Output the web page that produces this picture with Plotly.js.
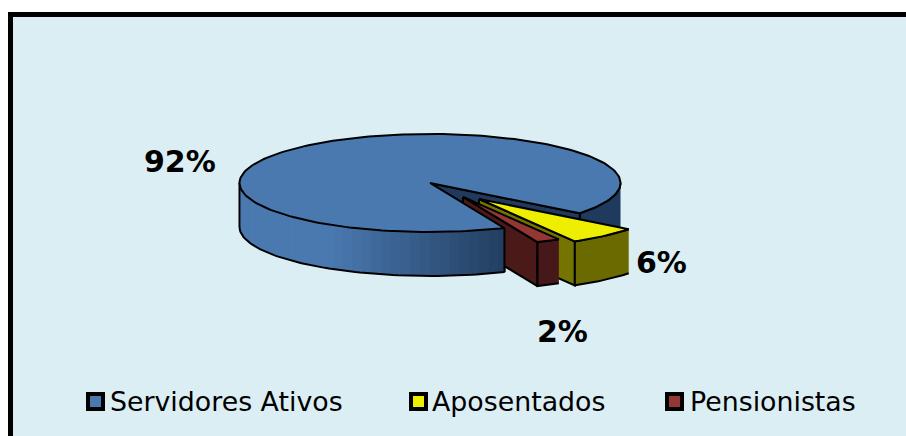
<!DOCTYPE html>
<html><head><meta charset="utf-8">
<script src="https://cdn.plot.ly/plotly-3.0.1.min.js"></script>
<style>html,body{margin:0;padding:0;background:#fff}#c{width:906px;height:436px}</style>
</head><body><div id="c"></div>
<script>
// Data
const categories = ["Servidores Ativos", "Aposentados", "Pensionistas"];
const shares = [92, 6, 2];
const labels = ["92%", "6%", "2%"];

// Style
const topColors = ["#4a79b0", "#eeee00", "#933634"];
const sideColors = ["#1f3a5c", "#6a6a00", "#47181a"];
const cutColors = ["#1f3a5c", "#747400", "#4b1a18"];
const burst = [[0, 0], [49, 16], [33, 14]];
const labelAt = [[180, 161], [661, 262], [562, 331]];
const legendMark = [95.5, 418.5, 674.5];
const legendText = [107.5, 429.5, 687.5];

const cx = 430, cy = 183, rx = 190.5, ry = 49, depth = 44, startAngle = 67;
const rad = d => d * Math.PI / 180;
const traces = [];
function poly(pts, fill, line) {
  traces.push({type: "scatter", mode: line ? "lines" : "none", fill: "toself", fillcolor: fill,
    x: pts.map(p => p[0]), y: pts.map(p => p[1]),
    line: {color: "#000", width: line ? 2 : 0}, showlegend: false, hoverinfo: "skip"});
}
function outline(pts) {
  traces.push({type: "scatter", mode: "lines", x: pts.map(p => p[0]), y: pts.map(p => p[1]),
    line: {color: "#000", width: 2}, showlegend: false, hoverinfo: "skip"});
}
function arc(a0, a1, dx, dy, dz) {
  const out = [], n = Math.max(2, Math.ceil(Math.abs(a1 - a0) / 1.5));
  for (let i = 0; i <= n; i++) {
    const a = rad(a0 + (a1 - a0) * i / n);
    out.push([cx + dx + rx * Math.cos(a), cy + dy + dz + ry * Math.sin(a)]);
  }
  return out;
}
// slice angles, clockwise on screen
const total = shares.reduce((a, b) => a + b, 0);
const spans = [];
let run = startAngle;
shares.forEach(v => { const s = v / total * 360; spans.push([run, run + s]); run += s; });
const blueEnd = spans[0][1] - 360;

// blue: far wall and the cut faces
const wallR = arc(0, blueEnd, 0, 0, 0).concat(arc(blueEnd, 0, 0, 0, depth));
poly(wallR, sideColors[0], true);
const pEnd = arc(blueEnd, blueEnd, 0, 0, 0)[0], pStart = arc(startAngle, startAngle, 0, 0, 0)[0];
poly([[cx, cy], pEnd, [pEnd[0], pEnd[1] + depth], [cx, cy + depth], [cx, cy]], cutColors[0], true);
poly([[cx, cy], pStart, [pStart[0], pStart[1] + depth], [cx, cy + depth], [cx, cy]], cutColors[0], true);

// exploded slices
[1, 2].forEach(i => {
  const [a0, a1] = [spans[i][0] - 360, spans[i][1] - 360];
  const [dx, dy] = burst[i];
  const ap = [cx + dx, cy + dy];
  const p1 = arc(a1, a1, dx, dy, 0)[0];
  poly([ap, p1, [p1[0], p1[1] + depth], [ap[0], ap[1] + depth], ap], cutColors[i], true);
  poly(arc(a0, a1, dx, dy, 0).concat(arc(a1, a0, dx, dy, depth)), sideColors[i], true);
  poly([ap].concat(arc(a0, a1, dx, dy, 0), [ap]), topColors[i], true);
});

// blue: front wall with shading that darkens towards the cut
const wallLeft = [74, 121, 176], wallRight = [34, 62, 96];
for (let a = 180; a > startAngle; a -= 3) {
  const b = Math.max(startAngle, a - 3.6);
  const xm = cx + rx * Math.cos(rad(a - 1.5));
  const t = Math.min(1, Math.max(0, (xm - 330) / (pStart[0] - 330)));
  const c = wallLeft.map((v, k) => Math.round(v + (wallRight[k] - v) * t));
  poly(arc(a, b, 0, 0, 0).concat(arc(b, a, 0, 0, depth)), `rgb(${c})`, false);
}
outline(arc(180, startAngle, 0, 0, depth));
outline([[cx - rx, cy], [cx - rx, cy + depth]]);
outline([[pStart[0], pStart[1]], [pStart[0], pStart[1] + depth]]);
// blue: top
poly([[cx, cy]].concat(arc(startAngle, startAngle + spans[0][1] - spans[0][0], 0, 0, 0), [[cx, cy]]), topColors[0], true);

// legend marks
categories.forEach((c, i) => {
  traces.push({type: "scatter", mode: "markers", x: [legendMark[i]], y: [401.5], name: c, showlegend: false, hoverinfo: "name",
    marker: {symbol: "square", size: 15, color: topColors[i], line: {color: "#000", width: 4}}});
});

const annotations = [];
labels.forEach((t, i) => annotations.push({x: labelAt[i][0], y: labelAt[i][1], text: "<b>" + t + "</b>", showarrow: false,
  xanchor: "center", yanchor: "middle", font: {family: "DejaVu Sans", size: 30, color: "#000"}}));
categories.forEach((t, i) => annotations.push({x: legendText[i], y: 401, text: t, showarrow: false,
  xanchor: "left", yanchor: "middle", font: {family: "DejaVu Sans", size: 26.8, color: "#000"}}));

Plotly.newPlot("c", traces, {
  width: 906, height: 436, margin: {l: 0, r: 0, t: 0, b: 0}, paper_bgcolor: "#fff", plot_bgcolor: "#fff", showlegend: false,
  xaxis: {range: [0, 906], visible: false, fixedrange: true},
  yaxis: {range: [436, 0], visible: false, fixedrange: true},
  shapes: [{type: "rect", xref: "x", yref: "y", x0: 10.5, y0: 14.5, x1: 930, y1: 460, fillcolor: "#dbeef4", line: {color: "#000", width: 5}, layer: "below"}],
  annotations
}, {displayModeBar: false, staticPlot: true});
</script></body></html>
